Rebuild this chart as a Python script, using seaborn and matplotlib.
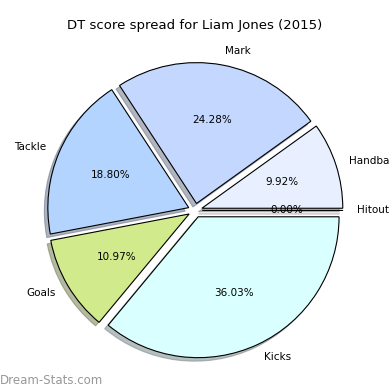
import matplotlib
matplotlib.use("Agg")
import matplotlib.pyplot as plt
import seaborn as sns

sns.set_theme(style="white")
plt.rcParams['font.family'] = ['DejaVu Sans']
plt.rcParams['text.color'] = 'black'

categories = ['Handball', 'Mark', 'Tackle', 'Goals', 'Kicks', 'Hitout']
values = [9.92, 24.28, 18.80, 10.97, 36.03, 0.0]
colors = ['#e8f0ff', '#c4d8ff', '#b3d4ff', '#d0ea8c', '#d9ffff', '#ffe0e0']
explode = [0.05] * len(values)
title = 'DT score spread for Liam Jones (2015)'

fig = plt.figure(figsize=(3.9, 3.9), dpi=100)
ax = fig.add_axes([0.049, 0.009, 0.903, 0.903])
wedges, texts, autotexts = ax.pie(
    values, labels=categories, colors=colors, explode=explode,
    autopct='%.2f%%', startangle=0,
    shadow={'ox': -0.018, 'oy': -0.018, 'shade': 0.5},
    pctdistance=0.6, labeldistance=1.1,
    wedgeprops={'edgecolor': 'black', 'linewidth': 0.8},
    textprops={'fontsize': 7.5, 'color': 'black'})
ax.set_aspect('equal')
fig.text(0.5, 0.935, title, ha='center', va='center', fontsize=9.5,
         color='black')
fig.text(0.0, 0.025, 'Dream-Stats.com', ha='left', va='center', fontsize=8.5,
         color='#989898')
fig.savefig('out.png', dpi=100)
